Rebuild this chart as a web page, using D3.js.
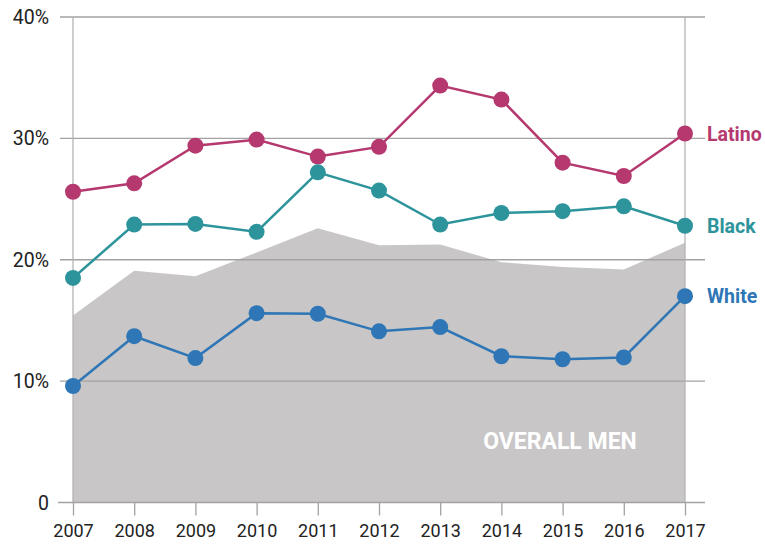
<!DOCTYPE html>
<html>
<head>
<meta charset="utf-8">
<script src="https://cdn.jsdelivr.net/npm/d3@7/dist/d3.min.js"></script>
<style>
  html, body { margin: 0; padding: 0; background: #fff; }
  svg { display: block; }
  text { font-family: Roboto, "Liberation Sans", Arial, sans-serif; }
</style>
</head>
<body>
<svg id="chart" width="765" height="548"></svg>
<script>
const years = [2007, 2008, 2009, 2010, 2011, 2012, 2013, 2014, 2015, 2016, 2017];
const latino = [25.6, 26.3, 29.4, 29.9, 28.5, 29.3, 34.35, 33.2, 28.0, 26.9, 30.4];
const black = [18.5, 22.9, 22.95, 22.3, 27.2, 25.7, 22.9, 23.85, 24.0, 24.4, 22.8];
const white = [9.6, 13.7, 11.9, 15.6, 15.55, 14.1, 14.45, 12.05, 11.8, 11.95, 17.0];
const overallMen = [15.4, 19.1, 18.65, 20.6, 22.6, 21.2, 21.25, 19.8, 19.4, 19.2, 21.4];
const yTicks = [0, 10, 20, 30, 40];
const yTickLabels = ["0", "10%", "20%", "30%", "40%"];
const seriesNames = ["Latino", "Black", "White"];

const svg = d3.select("#chart");
const x = d3.scaleLinear().domain([2007, 2017]).range([73, 685]);
const y = d3.scaleLinear().domain([0, 40]).range([502.5, 17]);

// overall area
const area = d3.area().x((d, i) => x(years[i])).y0(y(0)).y1(d => y(d));
svg.append("path").datum(overallMen).attr("d", area).attr("fill", "#c8c6c7");

// horizontal gridlines
svg.selectAll(".grid").data(yTicks.filter(t => t > 0)).join("line")
  .attr("x1", 60).attr("x2", 705)
  .attr("y1", d => y(d)).attr("y2", d => y(d))
  .attr("stroke", "#a3a2a3").attr("stroke-width", 1.3);

// vertical frame lines
[2007, 2017].forEach(yr => {
  svg.append("line").attr("x1", x(yr)).attr("x2", x(yr))
    .attr("y1", y(40)).attr("y2", y(0))
    .attr("stroke", "#b5b4b5").attr("stroke-width", 1.3);
});

// bottom axis
const xAxis = d3.axisBottom(x).tickValues(years).tickFormat(d3.format("d"))
  .tickSize(13).tickPadding(9);
const gx = svg.append("g").attr("transform", `translate(0,${y(0)})`).call(xAxis);
gx.select(".domain").remove();
gx.selectAll(".tick line").attr("stroke", "#a3a2a3").attr("stroke-width", 1.3);
gx.selectAll(".tick text").attr("fill", "#222").attr("font-size", 18)
  .attr("font-family", "Roboto, 'Liberation Sans', Arial, sans-serif");
svg.append("line").attr("x1", 58).attr("x2", 705).attr("y1", y(0)).attr("y2", y(0))
  .attr("stroke", "#a3a2a3").attr("stroke-width", 1.5);

// y tick labels
svg.selectAll(".ylab").data(yTicks).join("text")
  .attr("x", 49).attr("y", d => y(d)).attr("dy", "0.36em")
  .attr("text-anchor", "end").attr("fill", "#222").attr("font-size", 19.5)
  .text((d, i) => yTickLabels[i]);

// overall label
svg.append("text").attr("x", 560).attr("y", 449).attr("text-anchor", "middle")
  .attr("fill", "#fff").attr("font-size", 23).attr("font-weight", 700)
  .text("OVERALL MEN");

const seriesData = [latino, black, white];
const colors = ["#b5386e", "#2e949c", "#2e76b6"];
const line = d3.line().x((d, i) => x(years[i])).y(d => y(d));

seriesData.forEach((vals, s) => {
  svg.append("path").datum(vals).attr("d", line).attr("fill", "none")
    .attr("stroke", colors[s]).attr("stroke-width", 2.5);
  svg.selectAll(".dot" + s).data(vals).join("circle")
    .attr("cx", (d, i) => x(years[i])).attr("cy", d => y(d)).attr("r", 8)
    .attr("fill", colors[s]);
  svg.append("text").attr("x", 707).attr("y", y(vals[vals.length - 1]))
    .attr("dy", "0.36em").attr("fill", colors[s])
    .attr("font-size", 19.5).attr("font-weight", 700)
    .text(seriesNames[s]);
});
</script>
</body>
</html>
